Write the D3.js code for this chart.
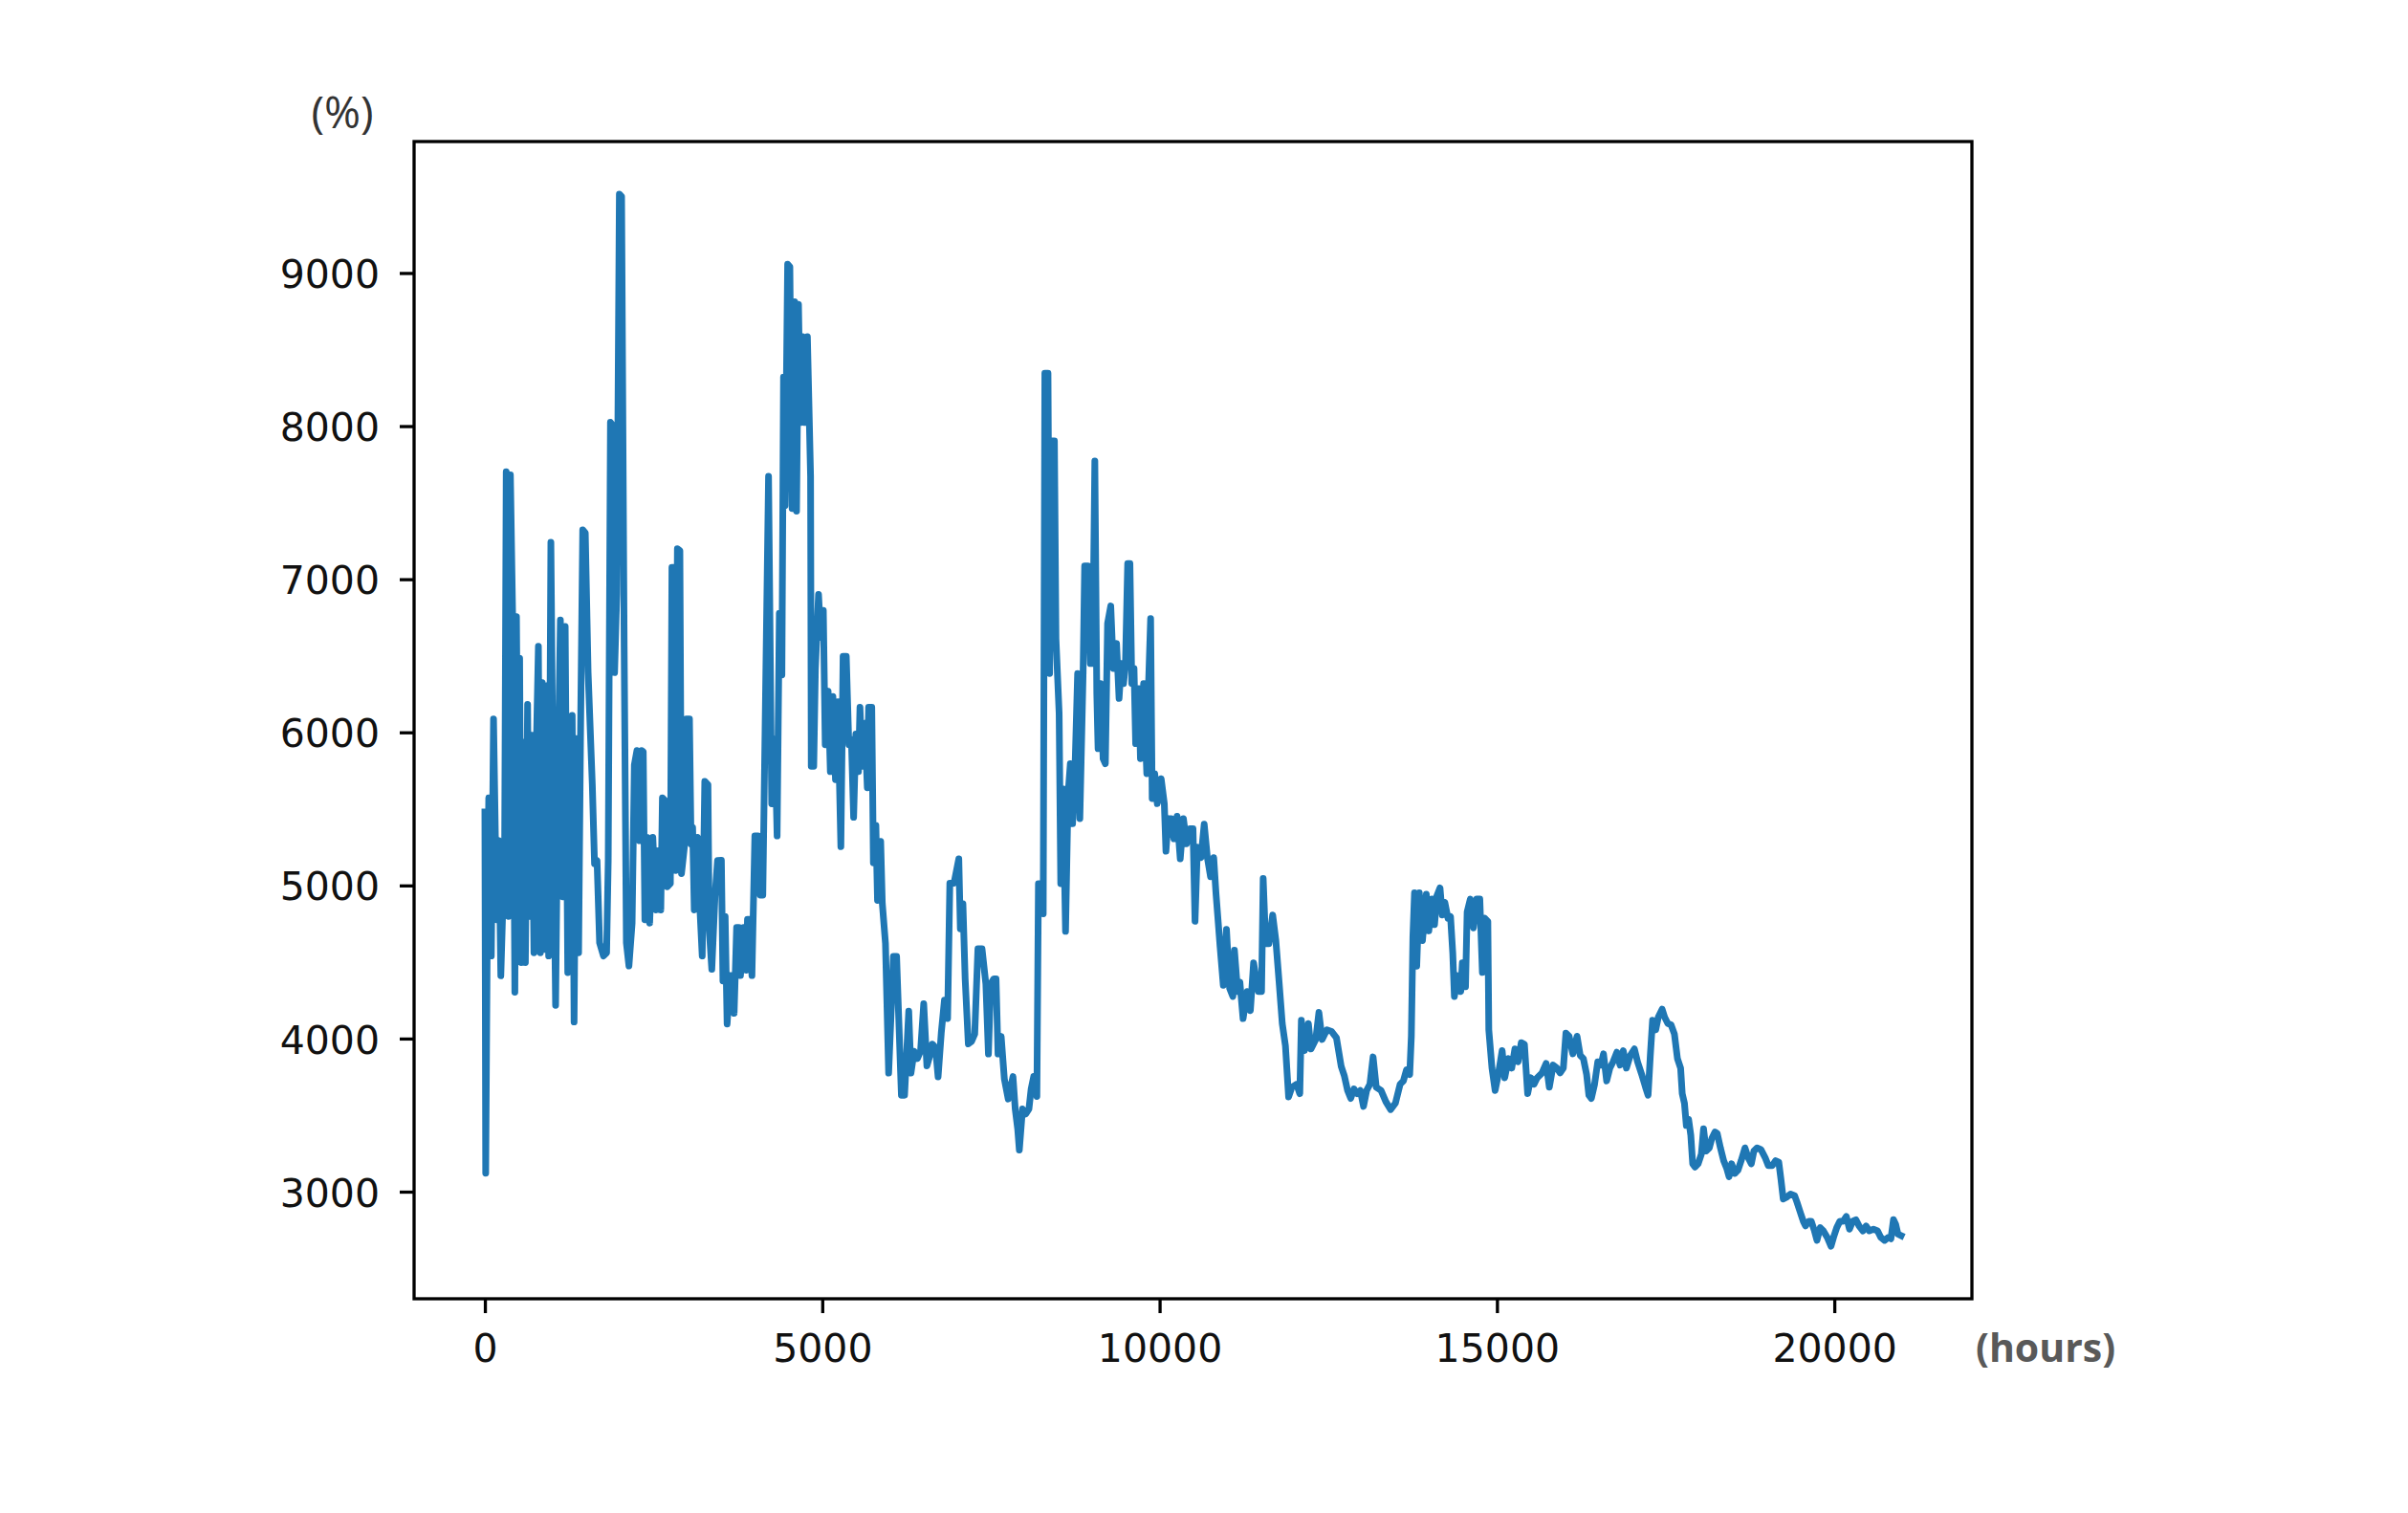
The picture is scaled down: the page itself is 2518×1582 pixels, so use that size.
<!DOCTYPE html>
<html><head><meta charset="utf-8">
<script src="https://cdn.jsdelivr.net/npm/d3@7"></script>
<style>html,body{margin:0;padding:0;background:#fff;} svg{display:block;}</style>
</head><body>
<svg id="chart" width="2518" height="1582"></svg>
<script>
// [hour, value] readings of the single series
const readings = [
[0,5480],[12,3120],[33,4517],[57,5572],[95,4539],[128,6088],[175,4776],[208,5292],[236,4410],[293,5270],[316,7702],[350,4797],[378,7681],[411,6768],[444,4302],[468,6755],[491,5357],[515,6484],[538,4496],[567,5938],[600,4496],[633,6183],[661,4797],[694,5981],[727,4560],[765,5959],[793,6562],[822,4560],[850,6325],[883,4582],[916,6304],[945,4539],[978,7242],[1011,5615],[1048,4216],[1086,5787],[1119,6734],[1152,4926],[1190,6691],[1228,4431],[1261,5808],[1294,6110],[1322,4108],[1356,5959],[1389,4560],[1417,5959],[1450,7323],[1488,7302],[1530,6390],[1592,5658],[1625,5141],[1662,5163],[1700,4625],[1757,4539],[1804,4560],[1828,5163],[1861,8025],[1899,8003],[1922,6390],[1955,6906],[1993,9515],[2026,9500],[2064,6562],[2097,4625],[2135,4474],[2182,4754],[2215,5787],[2253,5881],[2291,5292],[2324,5881],[2347,5873],[2371,4776],[2404,5314],[2442,4754],[2489,5314],[2536,4840],[2569,5227],[2607,4840],[2631,5572],[2678,5550],[2702,4991],[2749,5012],[2772,7078],[2806,7078],[2829,5098],[2853,7199],[2890,7186],[2914,5077],[2961,5270],[2985,6088],[3032,6088],[3056,5270],[3079,5378],[3103,4840],[3150,5314],[3183,4883],[3221,4539],[3259,5680],[3306,5658],[3325,4711],[3363,4452],[3410,4926],[3448,5163],
[3505,5165],[3528,4376],[3561,4797],[3590,4095],[3637,4411],[3670,4411],[3694,4165],[3731,4726],[3765,4726],[3788,4411],[3835,4726],[3873,4446],[3892,4779],[3930,4779],[3958,4411],[4001,5323],[4048,5323],[4081,4937],[4119,4937],[4204,7672],[4251,5533],[4298,5954],[4331,5323],[4364,6778],[4402,6374],[4426,8321],[4449,7480],[4487,9058],[4520,9040],[4553,7462],[4591,8812],[4619,7444],[4648,8795],[4676,8023],[4709,8584],[4742,8023],[4780,8584],[4827,7672],[4837,5778],[4874,5778],[4898,6410],[4945,6901],[4978,6620],[5016,6796],[5044,5919],[5087,6269],[5120,5743],[5158,6234],[5196,5691],[5229,6199],[5276,5253],[5309,6497],[5356,6497],[5394,5919],[5432,5954],[5465,5445],[5498,5989],[5536,5743],[5559,6164],[5592,5778],[5630,6059],[5668,5638],[5687,6164],[5734,6164],[5758,5147],[5795,5393],[5819,4902],[5866,5288],[5890,4884],[5937,4621],
[5984,3774],[6055,4537],[6102,4537],[6173,3630],[6220,3630],[6282,4179],[6315,3774],[6362,3917],[6410,3869],[6457,3917],[6504,4227],[6551,3821],[6598,3893],[6631,3964],[6679,3941],[6717,3750],[6764,4036],[6811,4251],[6858,4131],[6891,5015],[6953,5015],
[7024,5174],[7047,4717],[7085,4880],[7118,4390],[7165,3965],[7213,3981],[7260,4030],[7307,4586],[7368,4586],[7425,4357],[7463,3899],[7496,4357],[7543,4390],[7576,4390],[7605,3899],[7652,4014],[7699,3736],[7756,3605],[7827,3752],[7860,3540],[7897,3409],[7921,3272],[7968,3540],[8015,3507],[8063,3540],[8096,3671],[8134,3752],[8181,3622],[8204,5011],[8237,5011],[8275,4815],[8299,8345],[8346,8345],[8370,6384],[8393,7904],[8441,7904],[8464,6613],[8511,6122],[8535,5011],[8568,5632],[8606,4700],[8644,5599],[8677,5795],[8710,5403],[8748,5795],[8785,6384],[8818,5436],[8866,6384],[8889,7087],[8937,7087],[8974,6449],[9007,6449],[9040,7773],[9069,6253],[9088,5893],[9125,6318],[9163,5828],[9196,5795],[9229,6711],[9276,6825],[9314,6417],[9362,6580],[9399,6221],[9432,6449],[9465,6318],[9494,6449],[9527,7103],[9560,7103],[9588,6318],[9621,6417],[9645,5926],[9692,6286],[9716,5828],[9763,6318],[9810,5730],[9834,6286],[9867,6743],[9890,5567],[9928,5730],[9966,5534],[10023,5697],[10070,5534],[10094,5223],[10127,5436],[10174,5436],[10212,5305],[10259,5452],[10306,5174],[10353,5436],[10400,5272],[10448,5370],[10495,5370],[10525,4766],
[10560,5250],[10614,5182],[10661,5400],[10708,5182],[10755,5057],[10802,5182],[10835,4952],[10897,4598],[10944,4348],[10991,4713],[11038,4328],[11086,4275],[11109,4577],[11157,4307],[11190,4369],[11237,4130],[11298,4307],[11345,4182],[11393,4494],[11464,4307],[11511,4307],[11535,5046],[11572,4619],[11620,4619],[11676,4807],[11723,4640],[11771,4369],[11818,4098],[11865,3953],[11912,3619],[11960,3682],[12030,3702],[12078,3640],[12101,4119],[12148,3921],[12205,4098],[12243,3932],[12314,3994],[12361,4171],[12408,3994],[12479,4057],[12550,4046],[12621,4005],[12692,3817],[12739,3755],[12786,3661],[12833,3609],[12880,3671],[12928,3640],[12975,3661],[13022,3557],[13069,3661],[13117,3702],[13164,3880],[13211,3682],[13282,3661],[13353,3588],[13424,3536],[13495,3578],[13565,3702],[13613,3723],[13660,3796],[13707,3765],[13731,4015],[13754,4661],[13778,4952],[13811,4473],[13849,4952],[13896,4640],[13953,4942],[13990,4703],[14038,4911],[14075,4744],
[14109,4932],[14156,4984],[14189,4807],[14227,4890],[14274,4786],[14312,4796],[14345,4557],[14369,4275],[14416,4411],[14463,4307],[14487,4494],[14534,4338],[14558,4827],[14605,4911],[14652,4723],[14699,4911],[14746,4911],[14784,4432],[14817,4786],[14865,4765],[14879,4057],[14926,3807],[14973,3661],[15020,3765],[15077,3921],[15115,3744],[15171,3869],[15219,3807],[15266,3932],[15313,3848],[15360,3973],[15407,3963],[15455,3640],[15502,3744],[15549,3702],[15596,3744],[15667,3775],[15729,3838],[15776,3682],[15833,3827],[15889,3807],[15936,3775],[15984,3807],[16022,4036],[16069,4015],[16125,3900],[16187,4015],[16234,3890],[16281,3869],[16329,3765],[16362,3630],[16399,3609],[16447,3702],[16494,3848],[16541,3827],[16579,3900],[16626,3723],[16673,3807],[16721,3848],[16777,3911],[16824,3827],[16872,3921],[16919,3807],[16976,3890],[17037,3932],[17084,3848],[17146,3765],[17202,3682],[17240,3630],[17273,3890],[17306,4119],[17353,4057],[17391,4140],[17448,4192],[17485,4140],[17533,4098],[17580,4090],
[17630,4030],[17675,3869],[17722,3807],[17746,3640],[17779,3577],[17807,3432],[17840,3473],[17873,3369],[17901,3182],[17935,3161],[17982,3182],[18029,3244],[18062,3411],[18100,3265],[18147,3286],[18185,3348],[18232,3390],[18265,3380],[18312,3286],[18360,3202],[18407,3150],[18440,3098],[18478,3182],[18525,3119],[18572,3140],[18619,3202],[18676,3286],[18723,3223],[18770,3182],[18808,3265],[18855,3286],[18912,3275],[18974,3223],[19021,3171],[19082,3171],[19129,3202],[19177,3192],[19210,3077],[19243,2952],[19290,2963],[19351,2984],[19413,2973],[19446,2932],[19493,2869],[19540,2807],[19573,2776],[19621,2807],[19658,2807],[19706,2744],[19743,2682],[19791,2765],[19838,2744],[19894,2702],[19951,2644],[19989,2702],[20036,2765],[20083,2807],[20131,2807],[20178,2838],[20225,2755],[20272,2807],[20320,2817],[20367,2776],[20424,2744],[20471,2776],[20518,2744],[20580,2755],[20641,2744],[20688,2702],[20745,2682],[20801,2702],[20839,2692],[20877,2817],[20910,2786],[20943,2723],[20990,2713]
];
const xTicks = [0, 5000, 10000, 15000, 20000];
const yTicks = [3000, 4000, 5000, 6000, 7000, 8000, 9000];
const yUnit = "(%)";
const xUnit = "(hours)";

const box = {left: 433, right: 2062, top: 148, bottom: 1358};
const svg = d3.select('#chart');

const xExt = d3.extent(readings, d => d[0]);
const yExt = d3.extent(readings, d => d[1]);
const xPad = (xExt[1] - xExt[0]) * 0.05, yPad = (yExt[1] - yExt[0]) * 0.05;
const x = d3.scaleLinear().domain([xExt[0] - xPad, xExt[1] + xPad]).range([box.left, box.right]);
const y = d3.scaleLinear().domain([yExt[0] - yPad, yExt[1] + yPad]).range([box.bottom, box.top]);

const tickFont = "'DejaVu Sans', sans-serif";

// line
svg.append('path')
  .datum(readings)
  .attr('fill', 'none')
  .attr('stroke', '#1f77b4')
  .attr('stroke-width', 7)
  .attr('stroke-linejoin', 'round')
  .attr('stroke-linecap', 'square')
  .attr('d', d3.line().x(d => x(d[0])).y(d => y(d[1])));

// axes
const xAxis = svg.append('g')
  .attr('transform', `translate(0,${box.bottom})`)
  .call(d3.axisBottom(x).tickValues(xTicks).tickSize(15).tickPadding(22).tickFormat(d3.format('d')));
const yAxis = svg.append('g')
  .attr('transform', `translate(${box.left},0)`)
  .call(d3.axisLeft(y).tickValues(yTicks).tickSize(15).tickPadding(21).tickFormat(d3.format('d')));

[xAxis, yAxis].forEach(g => {
  g.select('.domain').remove();
  g.selectAll('.tick line').attr('stroke', '#000').attr('stroke-width', 3.3);
  g.selectAll('.tick text')
    .attr('fill', '#111')
    .style('font-family', tickFont)
    .style('font-size', '41px');
});
yAxis.selectAll('.tick text').attr('dy', '0.37em');

// frame
svg.append('rect')
  .attr('x', box.left).attr('y', box.top)
  .attr('width', box.right - box.left).attr('height', box.bottom - box.top)
  .attr('fill', 'none').attr('stroke', '#000').attr('stroke-width', 3.3);

// unit labels
svg.append('text')
  .attr('x', 358).attr('y', 134)
  .attr('text-anchor', 'middle')
  .attr('fill', '#333')
  .style('font-family', "'Open Sans', 'Noto Sans', sans-serif")
  .style('font-size', '46px')
  .text(yUnit);
svg.append('text')
  .attr('x', 2066).attr('y', 1424)
  .attr('fill', '#595959')
  .style('font-family', "'Open Sans', 'Noto Sans', sans-serif")
  .style('font-weight', 'bold')
  .style('font-size', '41px')
  .text(xUnit);
</script>
</body></html>
